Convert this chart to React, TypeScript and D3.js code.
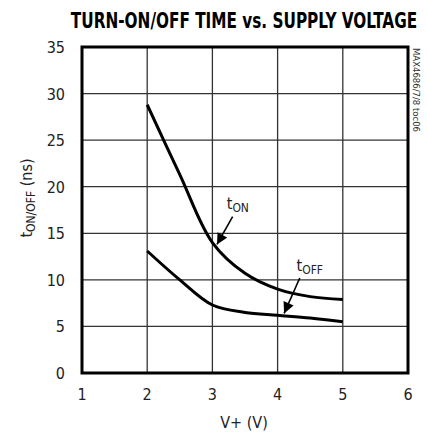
import React, { useRef, useEffect } from "react";
import * as d3 from "d3";

const xTicks = [1, 2, 3, 4, 5, 6];
const yTicks = [0, 5, 10, 15, 20, 25, 30, 35];

const voltage = [2, 2.5, 3, 3.5, 4, 4.5, 5];
const tOn = [28.8, 21.3, 14.0, 10.7, 9.0, 8.2, 7.9];
const tOff = [13.1, 10.0, 7.3, 6.5, 6.2, 5.9, 5.5];

const W = 427;
const H = 434;
const margin = { left: 82, right: 19, top: 47, bottom: 61 };
const font = "'DejaVu Sans Condensed', 'Liberation Sans Narrow', Roboto, sans-serif";

function App() {
  const gRef = useRef<SVGGElement>(null);

  useEffect(() => {
    const g = d3.select(gRef.current);
    g.selectAll("*").remove();

    const x = d3.scaleLinear().domain([1, 6]).range([margin.left, W - margin.right]);
    const y = d3.scaleLinear().domain([0, 35]).range([H - margin.bottom, margin.top]);

    // grid
    g.append("g")
      .selectAll("line")
      .data(xTicks.slice(1, -1))
      .join("line")
      .attr("x1", (d) => x(d)).attr("x2", (d) => x(d))
      .attr("y1", y(0)).attr("y2", y(35))
      .attr("stroke", "#333").attr("stroke-width", 1.3);
    g.append("g")
      .selectAll("line")
      .data(yTicks.slice(1, -1))
      .join("line")
      .attr("x1", x(1)).attr("x2", x(6))
      .attr("y1", (d) => y(d)).attr("y2", (d) => y(d))
      .attr("stroke", "#333").attr("stroke-width", 1.3);

    // frame
    g.append("rect")
      .attr("x", x(1)).attr("y", y(35))
      .attr("width", x(6) - x(1)).attr("height", y(0) - y(35))
      .attr("fill", "none").attr("stroke", "#000").attr("stroke-width", 3);

    // tick labels
    g.append("g")
      .selectAll("text")
      .data(xTicks)
      .join("text")
      .attr("x", (d) => x(d)).attr("y", y(0) + 27)
      .attr("text-anchor", "middle")
      .attr("font-family", font).attr("font-size", 16).attr("fill", "#222")
      .text((d) => d);
    g.append("g")
      .selectAll("text")
      .data(yTicks)
      .join("text")
      .attr("x", x(1) - 17).attr("y", (d) => y(d) + 6)
      .attr("text-anchor", "end")
      .attr("font-family", font).attr("font-size", 16).attr("fill", "#222")
      .text((d) => d);

    // curves
    const lineGen = d3.line<number>()
      .x((d, i) => x(voltage[i]))
      .y((d) => y(d))
      .curve(d3.curveCatmullRom.alpha(0.5));
    [tOn, tOff].forEach((s) => {
      g.append("path")
        .attr("d", lineGen(s))
        .attr("fill", "none").attr("stroke", "#000").attr("stroke-width", 3);
    });

    // arrows
    const defs = g.append("defs");
    defs.append("marker")
      .attr("id", "ah").attr("viewBox", "0 0 10 10")
      .attr("refX", 10).attr("refY", 5)
      .attr("markerWidth", 13).attr("markerHeight", 11)
      .attr("markerUnits", "userSpaceOnUse")
      .attr("orient", "auto")
      .append("path").attr("d", "M0,0L10,5L0,10Z").attr("fill", "#000");

    const arrows = [
      { x1: 3.31, y1: 16.8, x2: 3.07, y2: 13.8 },
      { x1: 4.34, y1: 10.2, x2: 4.1, y2: 6.4 },
    ];
    g.append("g")
      .selectAll("line")
      .data(arrows)
      .join("line")
      .attr("x1", (d) => x(d.x1)).attr("y1", (d) => y(d.y1))
      .attr("x2", (d) => x(d.x2)).attr("y2", (d) => y(d.y2))
      .attr("stroke", "#000").attr("stroke-width", 1.6)
      .attr("marker-end", "url(#ah)");

    const labels = [
      { v: 3.22, t: 17.6, sub: "ON" },
      { v: 4.29, t: 10.9, sub: "OFF" },
    ];
    labels.forEach((l) => {
      const t = g.append("text")
        .attr("x", x(l.v)).attr("y", y(l.t))
        .attr("font-family", font).attr("font-size", 16).attr("fill", "#222");
      t.append("tspan").text("t");
      t.append("tspan").attr("font-size", 12).attr("dy", 3).text(l.sub);
    });
  }, []);

  return (
    <svg width={W} height={H} style={{ display: "block", position: "absolute", left: 0, top: 0 }}>
      <g ref={gRef} />
      <text transform="translate(244,28) scale(0.85,1.05)" textAnchor="middle" fontFamily={font}
        fontWeight="bold" fontSize={20} fill="#000">
        TURN-ON/OFF TIME vs. SUPPLY VOLTAGE
      </text>
      <text x={244} y={428} textAnchor="middle" fontFamily={font} fontSize={16} fill="#222">V+ (V)</text>
      <text transform="translate(32,198) rotate(-90)" textAnchor="middle" fontFamily={font} fontSize={16} fill="#222">
        <tspan>t</tspan>
        <tspan fontSize={12} dy={3}>ON/OFF</tspan>
        <tspan dy={-3}> (ns)</tspan>
      </text>
      <text transform="translate(413,48) rotate(90)" fontFamily={font} fontSize={9} fill="#333"
        textLength={84} lengthAdjust="spacingAndGlyphs">
        MAX4686/7/8 toc06
      </text>
    </svg>
  );
}

export default App;
